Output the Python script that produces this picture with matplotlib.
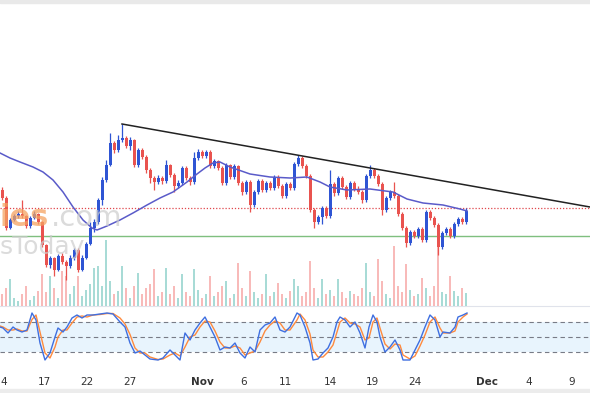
import numpy as np
import matplotlib.pyplot as plt
from matplotlib.patches import Rectangle

# price series (arbitrary price units), one entry per bar
open_first = 110
close = [102, 72, 80, 84, 86, 84, 74, 82, 86, 78,
         55, 35, 42, 30, 44, 38, 34, 42, 50, 30,
         42, 56, 72, 78, 100, 120, 135, 157, 150, 160,
         162, 154, 160, 135, 150, 143, 130, 122, 118, 122,
         119, 135, 125, 114, 117, 132, 122, 118, 142, 148,
         144, 148, 134, 139, 132, 117, 135, 123, 134, 117,
         108, 118, 95, 108, 119, 110, 117, 112, 123, 114,
         104, 116, 112, 136, 142, 134, 124, 90, 78, 83,
         92, 84, 116, 107, 122, 113, 103, 117, 111, 108,
         100, 124, 130, 124, 116, 90, 102, 108, 104, 86,
         72, 57, 68, 64, 71, 60, 88, 82, 75, 53,
         67, 71, 64, 76, 81, 78, 89]
high = [113, 104, 82, 86, 89, 100, 85, 84, 89, 87,
        79, 56, 44, 43, 46, 47, 40, 45, 52, 52,
        45, 58, 78, 81, 102, 123, 140, 167, 159, 165,
        176, 164, 163, 161, 152, 152, 145, 132, 124, 125,
        124, 140, 136, 127, 120, 134, 134, 124, 148, 151,
        150, 150, 150, 141, 140, 134, 137, 136, 136, 135,
        119, 120, 120, 110, 121, 121, 119, 119, 125, 125,
        116, 118, 118, 138, 145, 144, 136, 126, 92, 85,
        94, 94, 130, 118, 124, 124, 115, 119, 119, 114,
        110, 126, 135, 132, 126, 118, 104, 110, 118, 106,
        88, 74, 70, 70, 73, 73, 90, 90, 84, 77,
        69, 73, 73, 78, 83, 83, 92]
low = [100, 70, 71, 79, 82, 82, 72, 72, 81, 76,
       53, 33, 32, 24, 29, 36, 20, 32, 40, 28,
       29, 41, 55, 68, 76, 95, 118, 134, 147, 148,
       158, 152, 150, 133, 133, 141, 127, 117, 110, 116,
       116, 117, 123, 108, 112, 115, 120, 115, 116, 140,
       142, 142, 132, 132, 130, 115, 115, 121, 121, 115,
       105, 106, 88, 93, 106, 108, 108, 110, 110, 112,
       102, 102, 110, 110, 134, 132, 122, 88, 72, 76,
       76, 82, 82, 104, 105, 111, 101, 101, 109, 106,
       97, 98, 122, 122, 114, 85, 88, 100, 102, 84,
       70, 53, 55, 62, 62, 58, 58, 80, 73, 45,
       51, 65, 62, 62, 74, 76, 76]
volume = [12, 18, 27, 8, 5, 12, 20, 6, 10, 15,
          32, 14, 30, 18, 8, 35, 30, 12, 20, 30,
          10, 16, 22, 38, 40, 20, 66, 25, 12, 15,
          40, 18, 8, 20, 33, 12, 18, 22, 37, 10,
          14, 38, 12, 20, 8, 32, 14, 10, 37, 16,
          8, 12, 30, 10, 14, 20, 25, 8, 12, 43,
          18, 10, 35, 14, 8, 12, 32, 10, 14, 23,
          12, 8, 15, 27, 20, 10, 14, 45, 18, 8,
          27, 12, 16, 10, 27, 14, 8, 15, 12, 10,
          18, 43, 14, 10, 47, 25, 12, 8, 60, 20,
          14, 42, 16, 10, 12, 28, 18, 10, 20, 63,
          14, 12, 30, 15, 10, 18, 13]

# moving average (bar position, value)
ma_t = [-0.5, 2, 4.5, 7.75, 10.25, 12.75, 15.25, 17.75, 20.25, 22.5,
        23.75, 26.25, 29.5, 32.75, 36.25, 39.5, 42.75, 46.25, 48.75, 50.75,
        52.75, 54.5, 57, 62, 67, 72, 76.25, 79.5, 82, 86.25,
        92, 97.75, 101.25, 105.25, 110.25, 114.5, 116.25]
ma_val = [147, 142, 138, 133, 128, 120, 108, 93, 80, 72,
          70, 74, 80, 87, 95, 102, 108, 118, 126, 132,
          137, 138, 133, 126, 123, 122, 123, 118, 113, 110,
          111, 108, 101, 97, 95, 91, 89]

# stochastic oscillator
stoch_t = [-0.5, 0.25, 1.5, 2.75, 3.75, 5, 6.25, 7.5, 8.5, 9.5,
           10.75, 12, 13.25, 14, 15.25, 16.25, 17.5, 18.75, 20, 21.25,
           22.75, 24.5, 26.25, 27.75, 29.5, 30.75, 32, 33.25, 34.5, 35.75,
           37, 39, 40.25, 42, 43.25, 44.5, 45.75, 47, 48.25, 49.5,
           50.75, 52, 53.25, 54.5, 55.75, 57, 58.25, 59.5, 60.75, 62,
           63.25, 64.5, 65.75, 67, 68.25, 69.5, 70.75, 72, 73.75, 74.5,
           75.75, 77, 77.75, 79, 80.25, 81.5, 82.75, 83.75, 84.5, 85.75,
           87, 88.25, 89.5, 90.75, 91.75, 92.75, 93.75, 94.5, 95.75, 97,
           98.25, 99.5, 100.25, 102, 103.25, 104.5, 105.75, 107, 108.25, 109.5,
           110.25, 112, 113.25, 114, 115.25, 116.25]
stoch_k = [70, 68, 58, 70, 64, 60, 64, 98, 84, 38,
           4, 18, 50, 68, 60, 70, 88, 94, 88, 94,
           94, 96, 98, 96, 80, 70, 38, 18, 22, 14,
           6, 4, 8, 24, 14, 4, 58, 44, 64, 78,
           90, 70, 50, 24, 30, 28, 38, 18, 8, 30,
           20, 64, 74, 78, 90, 64, 60, 70, 98, 94,
           70, 38, 4, 6, 18, 28, 50, 80, 90, 84,
           70, 80, 58, 28, 70, 94, 80, 50, 20, 30,
           44, 24, 4, 4, 24, 44, 70, 94, 84, 50,
           60, 58, 70, 90, 94, 98]
stoch_d = [72, 70, 64, 64, 66, 62, 62, 85, 94, 60,
           18, 8, 30, 50, 64, 64, 78, 90, 92, 90,
           94, 95, 97, 97, 88, 76, 55, 28, 18, 18,
           10, 5, 6, 14, 18, 12, 30, 50, 54, 70,
           82, 80, 62, 40, 28, 28, 32, 28, 14, 18,
           22, 40, 62, 74, 82, 78, 64, 64, 84, 96,
           84, 56, 24, 10, 10, 20, 34, 60, 80, 88,
           78, 76, 70, 44, 48, 80, 88, 68, 36, 26,
           36, 34, 14, 6, 12, 32, 54, 80, 90, 68,
           58, 58, 62, 80, 90, 96]

# drawn levels
resistance = 92
support = 64
trend_t = [30, 147]
trend_p = [176, 93]

tick_pos = [0.5, 10.5, 21.25, 32, 50, 60.5, 70.75, 82, 92.5, 103.25, 121.25, 131.75, 142.5]
tick_labels = ['4', '17', '22', '27', 'Nov', '6', '11', '14', '19', '24', 'Dec', '4', '9']

UP = '#2f55d4'
DOWN = '#e9534f'

W, H = 590, 393
fig = plt.figure(figsize=(W / 100, H / 100), dpi=100)
fig.patch.set_facecolor('white')

main_rect = [0, 1 - 306 / H, 1, 303 / H]
vax = fig.add_axes(main_rect)
ax = fig.add_axes(main_rect)
sax = fig.add_axes([0, 1 - 370 / H, 1, 64 / H])
vax.set_zorder(1)
ax.set_zorder(2)
ax.patch.set_alpha(0)

n = len(close)
x = np.arange(n)
c = np.array(close, dtype=float)
o = np.concatenate([[open_first], c[:-1]])
hi = np.array(high, dtype=float)
lo = np.array(low, dtype=float)
up = c >= o
colors = np.where(up, UP, DOWN)

# volume
vcol = np.where(up, '#26a69a', '#ef5350')
vax.bar(x, volume, width=0.4, color=vcol, alpha=0.4, linewidth=0)
vax.set_ylim(0, 303)
vax.set_xlim(-0.5, 147)
vax.axis('off')

# candles
ax.vlines(x, lo, hi, colors=colors, linewidth=0.9, zorder=3)
body = np.maximum(np.abs(c - o), 0.8)
ax.bar(x, body, bottom=np.minimum(o, c), width=0.75, color=colors, linewidth=0, zorder=4)

ax.plot(ma_t, ma_val, color='#5a5bc9', linewidth=1.1, zorder=5)
ax.plot(trend_t, trend_p, color='#222222', linewidth=1.1, zorder=6)
ax.axhline(resistance, color='#e0474c', linewidth=0.9, linestyle=(0, (1, 1.5)), zorder=2)
ax.axhline(support, color='#7fbf7f', linewidth=1.0, zorder=2)

# watermark (cropped in the screenshot), semi-transparent over the candles
ax.text(0 / W, 1 - 223 / 303, 'ies', ha='left', va='baseline', color='#f5a362',
        alpha=0.75, fontsize=22, fontweight='bold', zorder=7, transform=ax.transAxes)
ax.text(51 / W, 1 - 223 / 303, '.com', ha='left', va='baseline', color='#cccccc',
        alpha=0.7, fontsize=21, zorder=7, transform=ax.transAxes)
ax.text(0 / W, 1 - 251 / 303, 'sToday', ha='left', va='baseline', color='#cccccc',
        alpha=0.7, fontsize=18, zorder=7, transform=ax.transAxes)

ax.set_xlim(-0.5, 147)
ax.set_ylim(-6, 297)
ax.axis('off')

# stochastic pane
sax.axhspan(20, 80, color='#2196f3', alpha=0.1, linewidth=0)
for lvl in (80, 50, 20):
    sax.axhline(lvl, color='#787b86', linewidth=0.8, linestyle=(0, (4, 3)))
sax.plot(stoch_t, stoch_d, color='#ff8a3d', linewidth=1.0)
sax.plot(stoch_t, stoch_k, color='#3f6fe0', linewidth=1.0)
sax.set_xlim(-0.5, 147)
sax.set_ylim(-16, 112)
for s in ('left', 'right', 'bottom'):
    sax.spines[s].set_visible(False)
sax.spines['top'].set_color('#e0e3eb')
sax.set_yticks([])
sax.set_xticks(tick_pos)
sax.set_xticklabels(tick_labels)
sax.tick_params(axis='x', length=0, pad=5, labelsize=7.5, labelcolor='#333333')
for lab in sax.get_xticklabels():
    if lab.get_text() in ('Nov', 'Dec'):
        lab.set_fontweight('bold')

# grey strips from the screenshot edges
fig.patches.append(Rectangle((0, 1 - 3 / H), 1, 3 / H, transform=fig.transFigure,
                             color='#e9e9e9', zorder=0))
fig.patches.append(Rectangle((0, 0), 1, 4 / H, transform=fig.transFigure,
                             color='#ececec', zorder=0))

fig.savefig('out.png', dpi=100)
